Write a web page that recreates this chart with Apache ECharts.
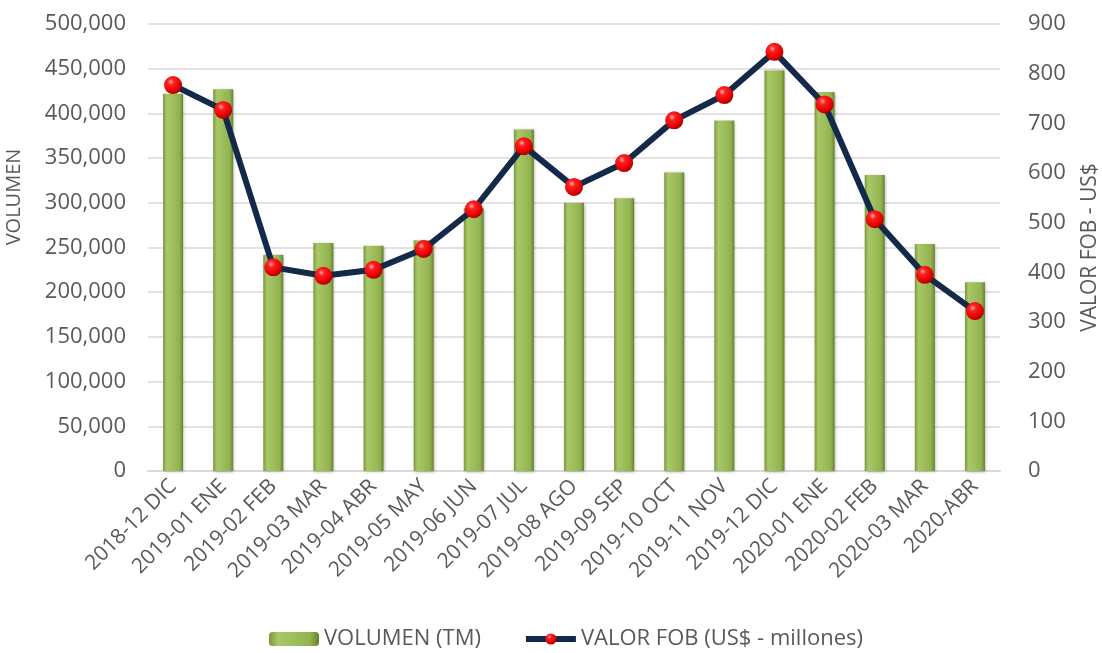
<!DOCTYPE html>
<html>
<head>
<meta charset="utf-8">
<script src="https://cdn.jsdelivr.net/npm/echarts@6/dist/echarts.min.js"></script>
<style>
  html, body { margin: 0; padding: 0; background: #fff; }
  #main { width: 1102px; height: 653px; }
</style>
</head>
<body>
<div id="main"></div>
<script>
// 数据
let meses = ['2018-12 DIC', '2019-01 ENE', '2019-02 FEB', '2019-03 MAR', '2019-04 ABR', '2019-05 MAY',
  '2019-06 JUN', '2019-07 JUL', '2019-08 AGO', '2019-09 SEP', '2019-10 OCT', '2019-11 NOV',
  '2019-12 DIC', '2020-01 ENE', '2020-02 FEB', '2020-03 MAR', '2020-ABR'];
let volumen = [422000, 427000, 242000, 255000, 252000, 258000, 294000, 382000, 300000, 305000,
  334000, 392000, 448000, 424000, 331000, 254000, 211000];
let valorFob = [777, 727, 410, 393, 405, 447, 527, 654, 572, 620, 706, 757, 844, 738, 507, 395, 322];

let myChart = echarts.init(document.getElementById('main'));

let gris = '#595959';
let fuente = 'Open Sans';

let option = {
  animation: false,
  textStyle: { fontFamily: fuente },
  grid: { left: 148, right: 102, top: 24, bottom: 182, outerBoundsMode: 'none', containLabel: false },
  legend: {
    left: 264,
    top: 623,
    itemWidth: 50,
    itemHeight: 14,
    itemGap: 42,
    textStyle: { color: gris, fontSize: 22, fontFamily: fuente },
    data: [
      { name: 'VOLUMEN (TM)' },
      { name: 'VALOR FOB (US$ - millones)', lineStyle: { width: 6, color: '#14284a' } }
    ]
  },
  graphic: [
    {
      type: 'text', x: 14, y: 197, rotation: Math.PI / 2,
      style: {
        text: 'VOLUMEN', fill: gris, font: '20px "Open Sans"',
        align: 'center', verticalAlign: 'middle'
      }
    }
  ],
  xAxis: {
    type: 'category',
    data: meses,
    axisLine: { lineStyle: { color: '#d9d9d9', width: 2 } },
    axisTick: { show: false },
    axisLabel: { rotate: 45, color: gris, fontSize: 21, interval: 0, margin: 12 }
  },
  yAxis: [
    {
      type: 'value', min: 0, max: 500000, interval: 50000,
      axisLine: { show: false }, axisTick: { show: false },
      splitLine: { lineStyle: { color: '#d9d9d9', width: 1.5 } },
      axisLabel: {
        color: gris, fontSize: 22, margin: 22,
        formatter: function (v) { return v.toLocaleString('en-US'); }
      }
    },
    {
      type: 'value', min: 0, max: 900, interval: 100,
      name: 'VALOR FOB - US$', nameLocation: 'middle', nameGap: 80, nameRotate: 90,
      nameTextStyle: { color: gris, fontSize: 21 },
      axisLine: { show: false }, axisTick: { show: false },
      splitLine: { show: false },
      axisLabel: { color: gris, fontSize: 22, margin: 28 }
    }
  ],
  series: [
    {
      name: 'VOLUMEN (TM)',
      type: 'bar',
      data: volumen,
      barWidth: 20,
      itemStyle: {
        color: new echarts.graphic.LinearGradient(0, 0, 1, 0, [
          { offset: 0, color: '#7a973f' },
          { offset: 0.18, color: '#a8c766' },
          { offset: 0.5, color: '#9ebe5b' },
          { offset: 0.82, color: '#92b250' },
          { offset: 1, color: '#66822f' }
        ]),
        shadowColor: 'rgba(0,0,0,0.3)',
        shadowBlur: 3,
        shadowOffsetX: 1,
        shadowOffsetY: 1
      }
    },
    {
      name: 'VALOR FOB (US$ - millones)',
      type: 'line',
      yAxisIndex: 1,
      data: valorFob,
      symbol: 'circle',
      symbolSize: 18,
      lineStyle: { color: '#14284a', width: 6 },
      itemStyle: {
        color: new echarts.graphic.RadialGradient(0.38, 0.32, 0.7, [
          { offset: 0, color: '#ffb0b0' },
          { offset: 0.25, color: '#ff2020' },
          { offset: 0.75, color: '#e60000' },
          { offset: 1, color: '#a00000' }
        ]),
        borderWidth: 0
      },
      z: 5
    }
  ]
};

myChart.setOption(option);
</script>
</body>
</html>
